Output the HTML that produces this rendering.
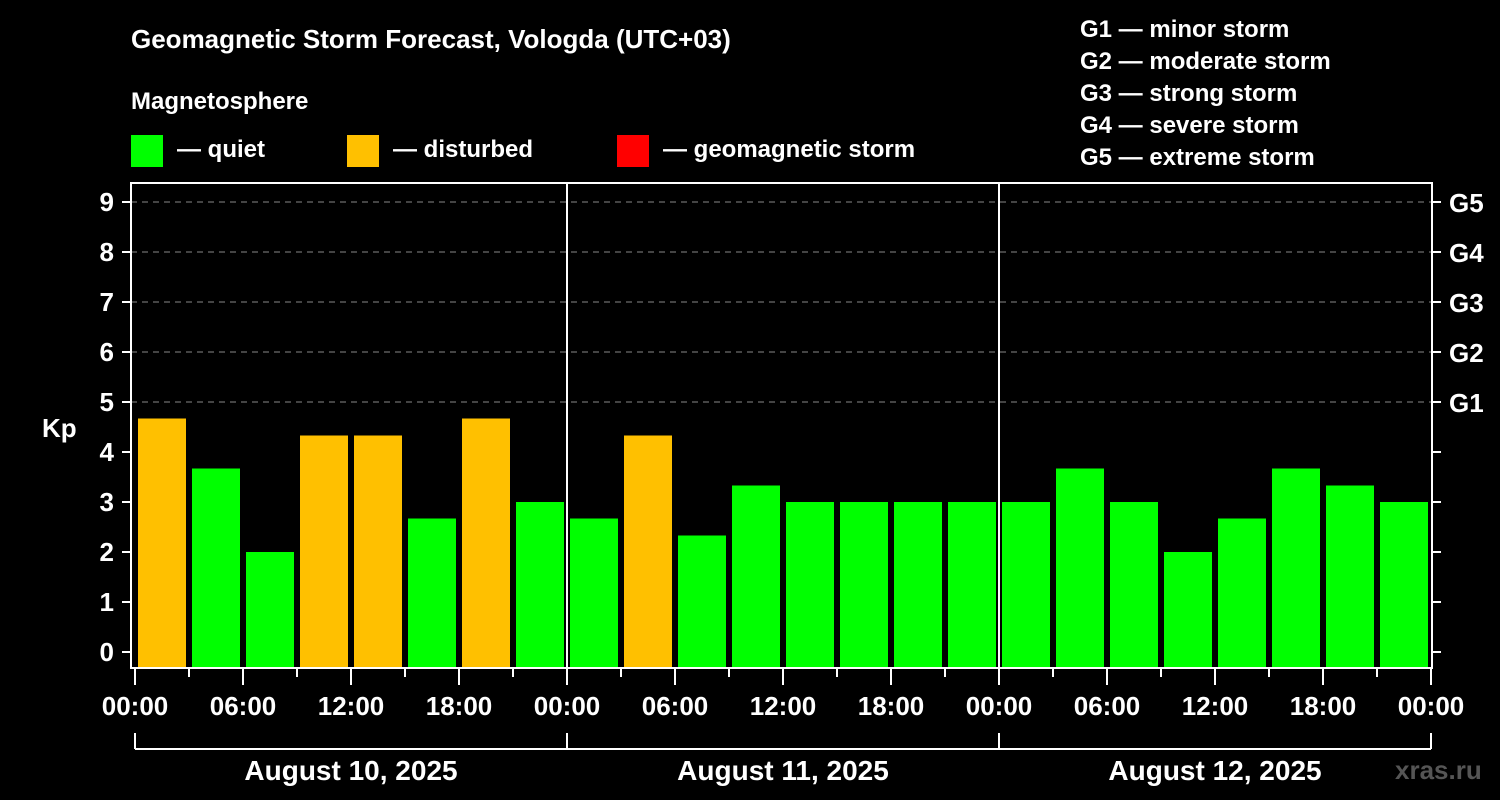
<!DOCTYPE html>
<html><head><meta charset="utf-8"><style>
body{margin:0;background:#000;}
svg{display:block;font-family:"Liberation Sans",sans-serif;font-weight:bold;}
</style></head><body>
<svg id="c" width="1500" height="800" viewBox="0 0 1500 800">
<rect width="1500" height="800" fill="#000"/>
<text x="131" y="48" fill="#fff" font-size="26">Geomagnetic Storm Forecast, Vologda (UTC+03)</text>
<text x="131" y="109" fill="#fff" font-size="24">Magnetosphere</text>
<g>
<rect x="131" y="135" width="32" height="32" fill="#00ff00"/>
<text x="177" y="157" fill="#fff" font-size="24">— quiet</text>
<rect x="347" y="135" width="32" height="32" fill="#ffc000"/>
<text x="393" y="157" fill="#fff" font-size="24">— disturbed</text>
<rect x="617" y="135" width="32" height="32" fill="#ff0000"/>
<text x="663" y="157" fill="#fff" font-size="24">— geomagnetic storm</text>
</g>
<g fill="#fff" font-size="24">
<text x="1080" y="37">G1 — minor storm</text>
<text x="1080" y="69">G2 — moderate storm</text>
<text x="1080" y="101">G3 — strong storm</text>
<text x="1080" y="133">G4 — severe storm</text>
<text x="1080" y="165">G5 — extreme storm</text>
</g>
<text x="42" y="437" fill="#fff" font-size="26">Kp</text>
<text x="1395" y="779" fill="#555" font-size="26">xras.ru</text>
<g id="grid"></g><g id="bars"></g><g id="axes"></g>
</svg>
<script>
const dayLabels=["August 10, 2025","August 11, 2025","August 12, 2025"];
const kpValues=[4.67,3.67,2,4.33,4.33,2.67,4.67,3, 2.67,4.33,2.33,3.33,3,3,3,3, 3,3.67,3,2,2.67,3.67,3.33,3];
const yTicks=[0,1,2,3,4,5,6,7,8,9];
const gLabels=["G1","G2","G3","G4","G5"];
const gLevels=[5,6,7,8,9];
const xTickLabels=["00:00","06:00","12:00","18:00"];
const NS="http://www.w3.org/2000/svg";
const X0=135,DAYW=432,L=131,R=1432,T=183,B=668;
const x=h=>X0+h*DAYW/24;
const y=v=>652-50*v;
function mk(tag,attrs,parent,txt){const e=document.createElementNS(NS,tag);for(const k in attrs)e.setAttribute(k,attrs[k]);if(txt!=null)e.textContent=txt;document.getElementById(parent).appendChild(e);return e;}
// grid
gLevels.forEach(v=>{const e=mk('line',{x1:L,x2:R,y1:y(v),y2:y(v),stroke:'#888','stroke-dasharray':'6,5','stroke-width':1},'grid');

});
// bars
const slot=3*DAYW/24;
kpValues.forEach((v,i)=>{const e=mk('rect',{x:x(i*3)+3,y:y(v),width:slot-6,height:B-y(v),fill:v>=4?'#ffc000':'#00ff00'},'bars');

});
// frame
const f=mk('rect',{x:L,y:T,width:R-L,height:B-T,fill:'none',stroke:'#fff','stroke-width':2},'axes');


for(let d=1;d<dayLabels.length;d++){const e=mk('line',{x1:x(24*d),x2:x(24*d),y1:T,y2:B,stroke:'#fff','stroke-width':2},'axes');

}
yTicks.forEach(v=>{mk('line',{x1:122,x2:L,y1:y(v),y2:y(v),stroke:'#fff','stroke-width':2},'axes');
mk('line',{x1:R,x2:R+9,y1:y(v),y2:y(v),stroke:'#fff','stroke-width':2},'axes');
const t=mk('text',{x:114,y:y(v)+9,fill:'#fff','font-size':26,'text-anchor':'end'},'axes',v);

});
gLevels.forEach((v,i)=>{const t=mk('text',{x:1449,y:y(v)+10,fill:'#fff','font-size':26},'axes',gLabels[i]);

});
for(let h=0;h<=24*dayLabels.length;h+=3){const major=h%6===0;mk('line',{x1:x(h),x2:x(h),y1:B,y2:major?685:677,stroke:'#fff','stroke-width':2},'axes');
if(major){const t=mk('text',{x:x(h),y:715,fill:'#fff','font-size':26,'text-anchor':'middle'},'axes',xTickLabels[(h%24)/6]);

}}
mk('line',{x1:x(0),x2:x(24*dayLabels.length),y1:749,y2:749,stroke:'#fff','stroke-width':2},'axes');
for(let d=0;d<=dayLabels.length;d++)mk('line',{x1:x(24*d),x2:x(24*d),y1:733,y2:749,stroke:'#fff','stroke-width':2},'axes');
dayLabels.forEach((s,d)=>{const t=mk('text',{x:x(24*d+12),y:780,fill:'#fff','font-size':28,'text-anchor':'middle'},'axes',s);

});
</script>
</body></html>
